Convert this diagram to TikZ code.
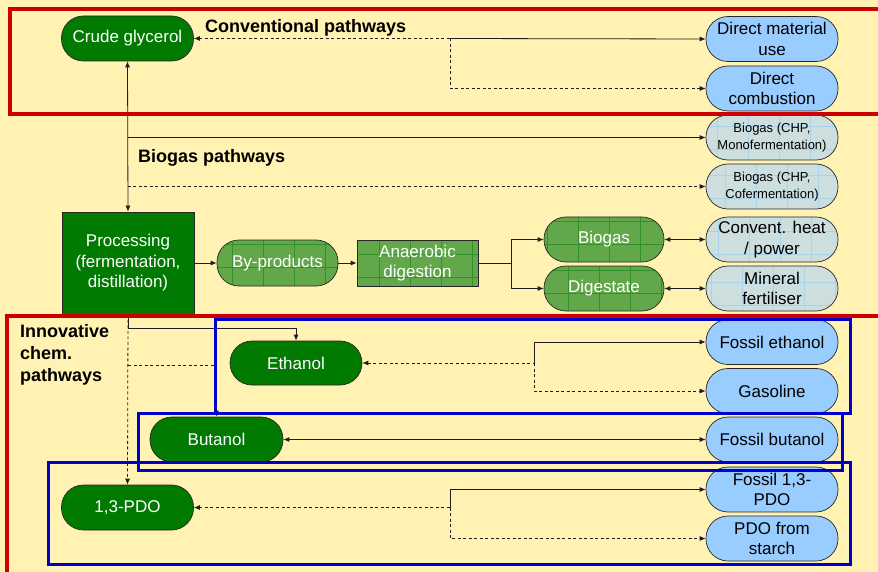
\documentclass[tikz,border=0pt]{standalone}
\usepackage{fontspec}
\setmainfont{Liberation Sans}
\usetikzlibrary{arrows.meta}
\definecolor{bgyel}{RGB}{255,242,178}
\definecolor{dgreen}{RGB}{0,122,0}
\definecolor{mgreen}{RGB}{98,168,74}
\definecolor{mgrid}{RGB}{50,145,40}
\definecolor{lblue}{RGB}{153,204,255}
\definecolor{gblue}{RGB}{204,222,222}
\definecolor{ggrid}{RGB}{170,210,235}
\definecolor{rbox}{RGB}{204,0,0}
\definecolor{bbox}{RGB}{0,0,204}
\definecolor{conn}{RGB}{30,30,30}
\begin{document}
\begin{tikzpicture}[x=1pt,y=-1pt,
  every node/.style={inner sep=0pt,align=center},
  base/.style={draw=black!85,line width=0.7pt,font=\fontsize{17}{20.5}\selectfont},
  pill/.style={base,rounded corners=22pt,minimum width=132pt,minimum height=45pt},
  dark/.style={fill=dgreen,text=white},
  blu/.style={fill=lblue,text=black},
  gridgreen/.style={fill=mgreen,text=white,path picture={\draw[mgrid,line width=0.5pt,xstep=31pt,ystep=23pt] (path picture bounding box.south west) grid (path picture bounding box.north east);}},
  gridblue/.style={fill=gblue,text=black,path picture={\draw[ggrid,line width=0.4pt,xstep=31pt,ystep=23pt] (path picture bounding box.south west) grid (path picture bounding box.north east);}},
  small/.style={font=\fontsize{13}{17}\selectfont},
  lbl/.style={font=\bfseries\fontsize{18}{22}\selectfont,align=left},
  ln/.style={draw=conn,line width=0.8pt},
  arr/.style={ln,-{Latex[length=6pt,width=5pt]}},
  barr/.style={ln,{Latex[length=6pt,width=5pt]}-{Latex[length=6pt,width=5pt]}},
  rarr/.style={ln,{Latex[length=6pt,width=5pt]}-},
  dsh/.style={dash pattern=on 3pt off 2.5pt},
  redbox/.style={draw=rbox,line width=3.2pt},
  bluebox/.style={draw=bbox,line width=3pt}
]
\useasboundingbox (0,0) rectangle (878,572);
\fill[bgyel] (0,0) rectangle (878,572);
\clip (0,0) rectangle (878,572);

% nodes
\node[pill,dark] (cg) at (127.5,38.5) {Crude glycerol};
\node[pill,blu] (dmu) at (772,39) {Direct material\\use};
\node[pill,blu] (dc) at (772,88.5) {Direct\\combustion};
\node[pill,gridblue,small] (bm) at (772,137.5) {Biogas (CHP,\\Monofermentation)};
\node[pill,gridblue,small] (bc) at (772,186.5) {Biogas (CHP,\\Cofermentation)};
\node[pill,gridblue] (ch) at (772,239.5) {Convent. heat\\/ power};
\node[pill,gridblue] (mf) at (772,288.5) {Mineral\\fertiliser};
\node[pill,blu] (fe) at (772,342) {Fossil ethanol};
\node[pill,blu] (gas) at (772,391) {Gasoline};
\node[pill,blu] (fb) at (772,439.5) {Fossil butanol};
\node[pill,blu] (fp) at (772,489.5) {Fossil 1,3-\\PDO};
\node[pill,blu] (ps) at (772,538.5) {PDO from\\starch};

\node[base,dark,minimum width=132pt,minimum height=102pt] (proc) at (128,263) {Processing\\(fermentation,\\distillation)};
\node[pill,gridgreen,minimum width=121pt,minimum height=46pt] (byp) at (277.5,263) {By-products};
\node[base,gridgreen,minimum width=121pt,minimum height=46pt] (ad) at (417.5,263) {Anaerobic\\digestion};
\node[pill,gridgreen,minimum width=120pt] (bg) at (604,239.5) {Biogas};
\node[pill,gridgreen,minimum width=120pt] (dg) at (604,288.5) {Digestate};
\node[pill,dark,minimum height=44pt] (eth) at (296,363) {Ethanol};
\node[pill,dark,minimum width=133pt] (but) at (216.5,439.5) {Butanol};
\node[pill,dark] (pdo) at (127.5,507.5) {1,3-PDO};

% labels
\node[lbl,anchor=base west] (t1) at (205,33) {Conventional pathways};
\node[lbl,anchor=base west] (t2) at (138,163) {Biogas pathways};
\node[lbl,anchor=north west] (t3) at (20,324) {Innovative\\chem.\\pathways};

% connectors
\coordinate (j1) at (450,38.5);
\draw[rarr,dsh] (cg.east) -- (j1);
\draw[arr] (j1) -- (dmu.west);
\draw[arr,dsh] (j1) |- (dc.west);
\draw[barr] (cg.south) -- (proc.north);
\coordinate (j2) at (cg.south |- bm.west);
\draw[arr] (j2) -- (bm.west);
\coordinate (j3) at (cg.south |- bc.west);
\draw[arr,dsh] (j3) -- (bc.west);
\draw[arr] (proc.east) -- (byp.west);
\draw[arr] (byp.east) -- (ad.west);
\coordinate (j4) at (511,263);
\draw[ln] (ad.east) -- (j4);
\draw[arr] (j4) |- (bg.west);
\draw[arr] (j4) |- (dg.west);
\draw[barr] (bg.east) -- (ch.west);
\draw[barr] (dg.east) -- (mf.west);
\draw[arr] (proc.south) -- ++(0,14) -| (eth.north);
\draw[arr,dsh] (proc.south) -- (pdo.north);
\coordinate (j5) at (128,365);
\draw[arr,dsh] (j5) -| (but.north);
\coordinate (j6) at (534,363);
\draw[rarr,dsh] (eth.east) -- (j6);
\draw[arr] (j6) |- (fe.west);
\draw[arr,dsh] (j6) |- (gas.west);
\draw[barr] (but.east) -- (fb.west);
\coordinate (j7) at (450,507.5);
\draw[rarr,dsh] (pdo.east) -- (j7);
\draw[arr] (j7) |- (fp.west);
\draw[arr,dsh] (j7) |- (ps.west);

% group boxes
\draw[redbox] (10,9) rectangle (900,114);
\draw[redbox] (7,316) rectangle (900,600);
\draw[bluebox] (215,319) rectangle (850,413);
\draw[bluebox] (138,413) rectangle (842,470);
\draw[bluebox] (48,462) rectangle (850,564);
\end{tikzpicture}
\end{document}
